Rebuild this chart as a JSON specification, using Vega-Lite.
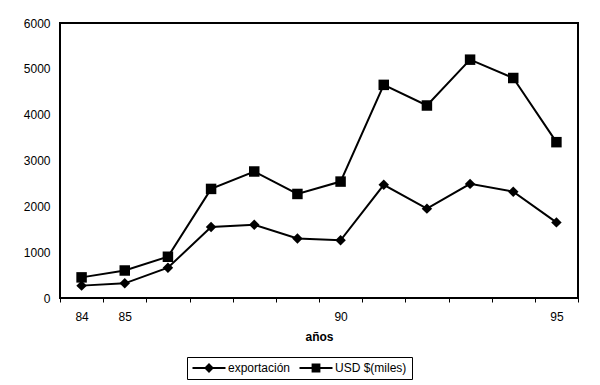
{
  "$schema": "https://vega.github.io/schema/vega-lite/v6.json",
  "width": 518,
  "height": 275,
  "autosize": {"type": "none"},
  "padding": {"left": 60, "top": 23, "right": 22, "bottom": 87},
  "background": "white",
  "config": {
    "view": {"stroke": "black", "strokeWidth": 2},
    "font": "Liberation Sans",
    "axis": {"labelColor": "black", "titleColor": "black", "labelFont": "Liberation Sans", "titleFont": "Liberation Sans", "grid": false}
  },
  "data": {
    "values": [
      {"year": "84", "series": "exportación", "value": 270},
      {"year": "85", "series": "exportación", "value": 320},
      {"year": "86", "series": "exportación", "value": 660},
      {"year": "87", "series": "exportación", "value": 1550},
      {"year": "88", "series": "exportación", "value": 1600},
      {"year": "89", "series": "exportación", "value": 1300},
      {"year": "90", "series": "exportación", "value": 1260},
      {"year": "91", "series": "exportación", "value": 2470},
      {"year": "92", "series": "exportación", "value": 1950},
      {"year": "93", "series": "exportación", "value": 2490},
      {"year": "94", "series": "exportación", "value": 2320},
      {"year": "95", "series": "exportación", "value": 1650},
      {"year": "84", "series": "USD $(miles)", "value": 450},
      {"year": "85", "series": "USD $(miles)", "value": 600},
      {"year": "86", "series": "USD $(miles)", "value": 900},
      {"year": "87", "series": "USD $(miles)", "value": 2380},
      {"year": "88", "series": "USD $(miles)", "value": 2760},
      {"year": "89", "series": "USD $(miles)", "value": 2270},
      {"year": "90", "series": "USD $(miles)", "value": 2540},
      {"year": "91", "series": "USD $(miles)", "value": 4650},
      {"year": "92", "series": "USD $(miles)", "value": 4200},
      {"year": "93", "series": "USD $(miles)", "value": 5200},
      {"year": "94", "series": "USD $(miles)", "value": 4800},
      {"year": "95", "series": "USD $(miles)", "value": 3400}
    ]
  },
  "encoding": {
    "x": {
      "field": "year", "type": "ordinal", "sort": null,
      "scale": {"paddingInner": 0, "paddingOuter": 0},
      "axis": {
        "title": "años", "titleFontWeight": "bold", "titleFontSize": 12, "titlePadding": 9,
        "labelAngle": 0, "labelFontSize": 12, "labelPadding": 9,
        "labelExpr": "indexof(['84','85','90','95'], datum.value) >= 0 ? datum.value : ''",
        "tickBand": "extent", "tickSize": 4, "tickColor": "black", "domain": false
      }
    },
    "y": {
      "field": "value", "type": "quantitative",
      "scale": {"domain": [0, 6000], "nice": false},
      "axis": {"title": null, "format": "d", "values": [0, 1000, 2000, 3000, 4000, 5000, 6000], "labelFontSize": 12, "ticks": false, "domain": false, "labelPadding": 10}
    }
  },
  "resolve": {"scale": {"shape": "independent"}, "legend": {"shape": "independent"}},
  "layer": [
    {
      "mark": {"type": "line", "color": "black", "strokeWidth": 2},
      "encoding": {"detail": {"field": "series"}}
    },
    {
      "mark": {"type": "point", "filled": true, "color": "black", "opacity": 1},
      "encoding": {
        "shape": {
          "field": "series", "type": "nominal",
          "scale": {"domain": ["exportación", "USD $(miles)"], "range": ["diamond", "square"]},
          "legend": null
        },
        "size": {"value": 110}
      }
    },
    {
      "transform": [{"filter": "datum.value < 0"}],
      "mark": {"type": "point", "filled": true, "color": "black", "opacity": 1},
      "encoding": {
        "shape": {
          "field": "series", "type": "nominal",
          "scale": {
            "domain": ["exportación", "USD $(miles)"],
            "range": [
              "M-1,-0.18H5V0.18H-1Z M2,-0.9L2.9,0L2,0.9L1.1,0Z",
              "M-1,-0.18H5V0.18H-1Z M1.2,-0.8H2.8V0.8H1.2Z"
            ]
          },
          "legend": {
            "title": null, "orient": "none", "direction": "horizontal",
            "legendX": 127, "legendY": 334,
            "strokeColor": "black", "padding": 5,
            "symbolSize": 121, "symbolStrokeWidth": 0, "symbolFillColor": "black", "symbolOpacity": 1,
            "labelFontSize": 12, "labelColor": "black", "labelOffset": 24, "columnPadding": 8
          }
        },
        "size": {"value": 121}
      }
    }
  ]
}
